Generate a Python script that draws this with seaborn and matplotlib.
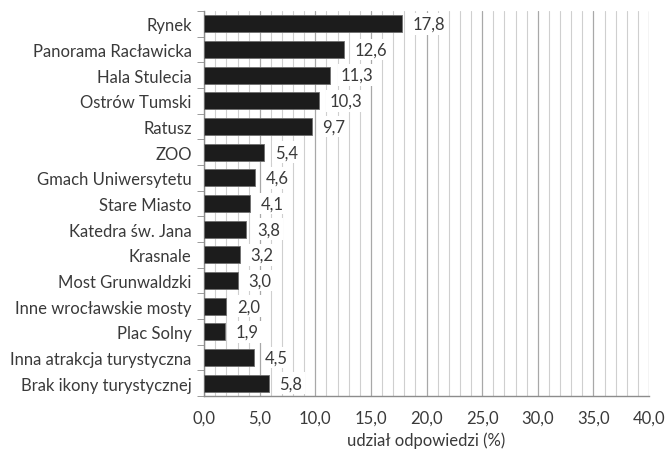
import matplotlib
matplotlib.use("Agg")
import matplotlib.pyplot as plt
import seaborn as sns
import numpy as np
import pandas as pd
from matplotlib.ticker import MultipleLocator, FixedLocator

# ── DATA ─────────────────────────────────────────────────────────────────────
categories = [
    "Rynek",
    "Panorama Racławicka",
    "Hala Stulecia",
    "Ostrów Tumski",
    "Ratusz",
    "ZOO",
    "Gmach Uniwersytetu",
    "Stare Miasto",
    "Katedra św. Jana",
    "Krasnale",
    "Most Grunwaldzki",
    "Inne wrocławskie mosty",
    "Plac Solny",
    "Inna atrakcja turystyczna",
    "Brak ikony turystycznej",
]
values = [17.8, 12.6, 11.3, 10.3, 9.7, 5.4, 4.6, 4.1, 3.8, 3.2, 3.0, 2.0, 1.9, 4.5, 5.8]
x_ticks = [0, 5, 10, 15, 20, 25, 30, 35, 40]
x_label = "udział odpowiedzi (%)"

df = pd.DataFrame({"kategoria": categories, "udzial": values})

# ── STYLE ────────────────────────────────────────────────────────────────────
sns.set_style("white")
plt.rcParams["font.family"] = ["Lato", "DejaVu Sans"]
text_color = "#3a3a3a"
fs = 12

fig = plt.figure(figsize=(6.65, 4.56), dpi=100)
ax = fig.add_axes([0.307, 0.129, 0.669, 0.845])

sns.barplot(
    data=df, x="udzial", y="kategoria", orient="h",
    color="#1c1c1c", edgecolor="#6e6e6e", linewidth=0.6,
    width=0.66, ax=ax, zorder=3,
)

# grid: light every 1, darker every 5
ax.set_xlim(0, 40)
ax.xaxis.set_major_locator(FixedLocator(x_ticks))
ax.xaxis.set_minor_locator(MultipleLocator(1))
ax.grid(axis="x", which="minor", color="#cfcfcf", linewidth=0.8, zorder=0)
ax.grid(axis="x", which="major", color="#a8a8a8", linewidth=0.9, zorder=0)
ax.set_axisbelow(True)
ax.set_ylim(len(categories) - 0.5, -0.5)

ax.set_xticklabels([f"{t:.1f}".replace(".", ",") for t in x_ticks],
                   fontsize=fs, color=text_color)
ax.tick_params(axis="x", which="major", length=5, color="#8c8c8c", pad=5)
ax.tick_params(axis="x", which="minor", length=0)

# y: labels at bar centres, tick marks at category boundaries
ax.yaxis.set_minor_locator(FixedLocator(np.arange(-0.5, len(categories), 1.0)))
ax.tick_params(axis="y", which="major", length=0, pad=9, labelsize=fs,
               labelcolor=text_color)
ax.tick_params(axis="y", which="minor", length=5, color="#8c8c8c", left=True)

for side in ["top", "right"]:
    ax.spines[side].set_visible(False)
for side in ["left", "bottom"]:
    ax.spines[side].set_color("#8c8c8c")
    ax.spines[side].set_linewidth(1.0)

ax.set_ylabel("")
ax.set_xlabel(x_label, fontsize=fs, color=text_color, labelpad=4)

# value labels with white background
for i, v in enumerate(values):
    ax.text(v + 0.95, i, f"{v:.1f}".replace(".", ","), va="center", ha="left",
            fontsize=fs, color=text_color, zorder=4,
            bbox=dict(facecolor="white", edgecolor="none", pad=2.0))

fig.savefig("out.png", dpi=100)
